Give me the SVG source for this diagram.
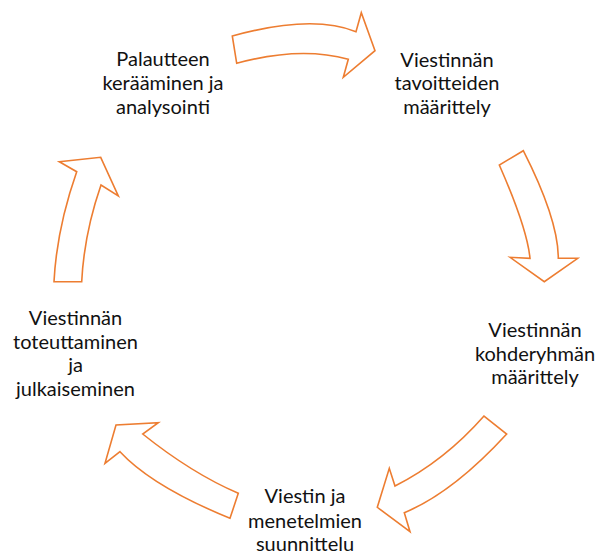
<svg xmlns="http://www.w3.org/2000/svg" width="597" height="551" viewBox="0 0 597 551">
<style>
.arrow{fill:#ffffff;stroke:#ED7D31;stroke-width:1.6;stroke-linejoin:miter}
.lbl{font-family:Lato,"Liberation Sans",sans-serif;font-size:20px;fill:#111111;text-anchor:middle}
</style>
<rect width="597" height="551" fill="#ffffff"/>
<g id="connectors">
<path id="arrow-top" class="arrow" d="M232.3,36 Q312,14 356,31.7 L361.3,12.7 L375,50.7 L343.3,77.3 L348.3,59.3 Q300,46 236.7,63.3 Z"/>
<path id="arrow-right" class="arrow" d="M523.3,150.7 Q558.3,219.5 558.3,258.3 L577.7,258.3 L544.3,281.7 L510,257.3 L530,258.3 Q527,228 499.3,165 Z"/>
<path id="arrow-bottom-right" class="arrow" d="M484,416 Q444.4,461 395,486 L389.3,468.3 L377.3,507.3 L410,531.7 L404.3,512.7 Q452.5,492.9 506.7,434 Z"/>
<path id="arrow-bottom-left" class="arrow" d="M238.3,493.3 Q191.8,473.3 142.7,434 L158.3,422.7 L116,425 L105,463.3 L120,451.7 Q152,486.3 230,518.3 Z"/>
<path id="arrow-left" class="arrow" d="M81.7,281.7 Q84.1,233.7 101,185 L118.3,196 L100.7,157.3 L59.3,161.7 L76.7,171.7 Q56.7,228.7 54,281.7 Z"/>
</g>
<g id="node-palaute">
<text class="lbl" x="163" y="66">Palautteen</text>
<text class="lbl" x="163" y="90">kerääminen ja</text>
<text class="lbl" x="163" y="113.5">analysointi</text>
</g>
<g id="node-tavoitteet">
<text class="lbl" x="447" y="66.5">Viestinnän</text>
<text class="lbl" x="447" y="90">tavoitteiden</text>
<text class="lbl" x="447" y="113.5">määrittely</text>
</g>
<g id="node-kohderyhma">
<text class="lbl" x="535" y="337.3">Viestinnän</text>
<text class="lbl" x="535" y="360.7">kohderyhmän</text>
<text class="lbl" x="535" y="384">määrittely</text>
</g>
<g id="node-suunnittelu">
<text class="lbl" x="305" y="503.3">Viestin ja</text>
<text class="lbl" x="305" y="527.7">menetelmien</text>
<text class="lbl" x="305" y="551">suunnittelu</text>
</g>
<g id="node-toteutus">
<text class="lbl" x="75.5" y="325">Viestinnän</text>
<text class="lbl" x="75.5" y="348.5">toteuttaminen</text>
<text class="lbl" x="75.5" y="372">ja</text>
<text class="lbl" x="75.5" y="396">julkaiseminen</text>
</g>
</svg>
